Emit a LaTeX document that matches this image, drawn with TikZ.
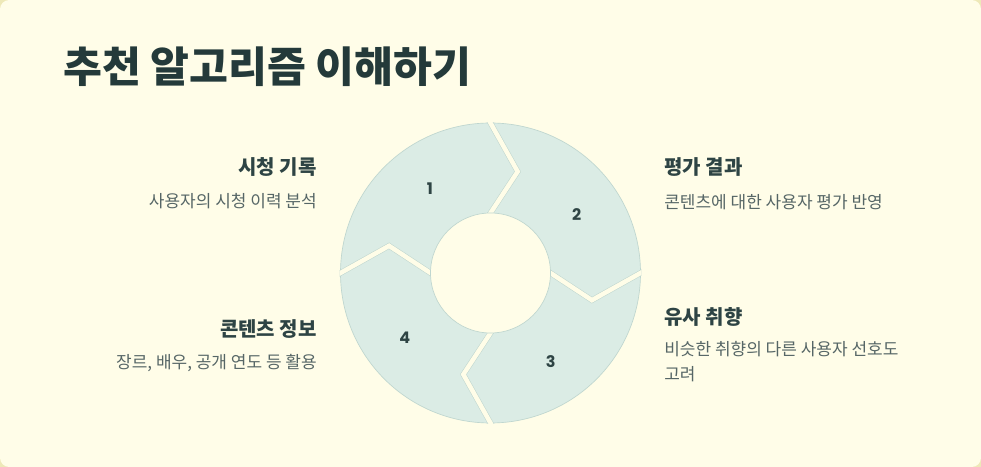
\documentclass[tikz,border=0pt]{standalone}
\usepackage{fontspec}
\setmainfont{Noto Sans CJK KR}
\newfontfamily\numfont{Poppins}
\usetikzlibrary{calc}
\definecolor{bg}{HTML}{FFFDE8}
\definecolor{corner}{HTML}{EEE9B8}
\definecolor{seg}{HTML}{DBECE5}
\definecolor{segline}{HTML}{BFD6CF}
\definecolor{titlecol}{HTML}{243A3A}
\definecolor{headcol}{HTML}{2E4444}
\definecolor{desccol}{HTML}{566666}
\begin{document}
\begin{tikzpicture}[x=0.75pt,y=0.75pt,
 titletext/.style={font=\fontsize{31.7pt}{36pt}\selectfont\bfseries, text=titlecol, inner sep=0, anchor=west},
 headtext/.style={font=\fontsize{15pt}{18pt}\selectfont\bfseries, text=headcol, inner sep=0},
 desctext/.style={font=\fontsize{12.75pt}{18.75pt}\selectfont, text=desccol, inner sep=0},
 numtext/.style={font=\numfont\bfseries\fontsize{12pt}{14pt}\selectfont, text=headcol, inner sep=0},
 gapline/.style={draw=segline, line width=0.4pt, double=bg, double distance=3.4pt, line join=miter}]
\useasboundingbox (0,0) rectangle (981,467);
\fill[corner] (0,0) rectangle (981,467);
\fill[bg, rounded corners=7pt] (0,0) rectangle (981,467);

\node[titletext] (title) at (63,400.5) {추천 알고리즘 이해하기};

\node[headtext, anchor=east] (h1) at (317,300.3) {시청 기록};
\node[desctext, anchor=east] (d1) at (317,266.2) {사용자의 시청 이력 분석};
\node[headtext, anchor=east] (h4) at (317,138) {콘텐츠 정보};
\node[desctext, anchor=east] (d4) at (317,104) {장르, 배우, 공개 연도 등 활용};

\node[headtext, anchor=west] (h2) at (664,300) {평가 결과};
\node[desctext, anchor=west] (d2) at (664,265.3) {콘텐츠에 대한 사용자 평가 반영};
\node[headtext, anchor=west] (h3) at (664,150.3) {유사 취향};
\node[desctext, anchor=west, align=left] (d3) at (664,105.5) {비슷한 취향의 다른 사용자 선호도\\고려};

\coordinate (c) at (490.5,194);
\fill[seg, draw=segline, line width=0.5pt] (c) circle (150);
\begin{scope}
\clip (c) circle (150.8);
\begin{scope}[shift={(c)}]
\foreach \b in {90,0,-90,180} {
  \draw[gapline] ($(\b-15:105)!1.07!(\b:150)$) -- (\b-15:105) -- ($(\b-15:105)!1.12!(\b:60)$);
}
\end{scope}
\end{scope}
\fill[bg, draw=segline, line width=0.5pt] (c) circle (60);

\node[numtext] (n1) at (430,278) {1};
\node[numtext] (n2) at (576.7,252) {2};
\node[numtext] (n3) at (550.7,105) {3};
\node[numtext] (n4) at (404.7,129.3) {4};
\end{tikzpicture}
\end{document}
